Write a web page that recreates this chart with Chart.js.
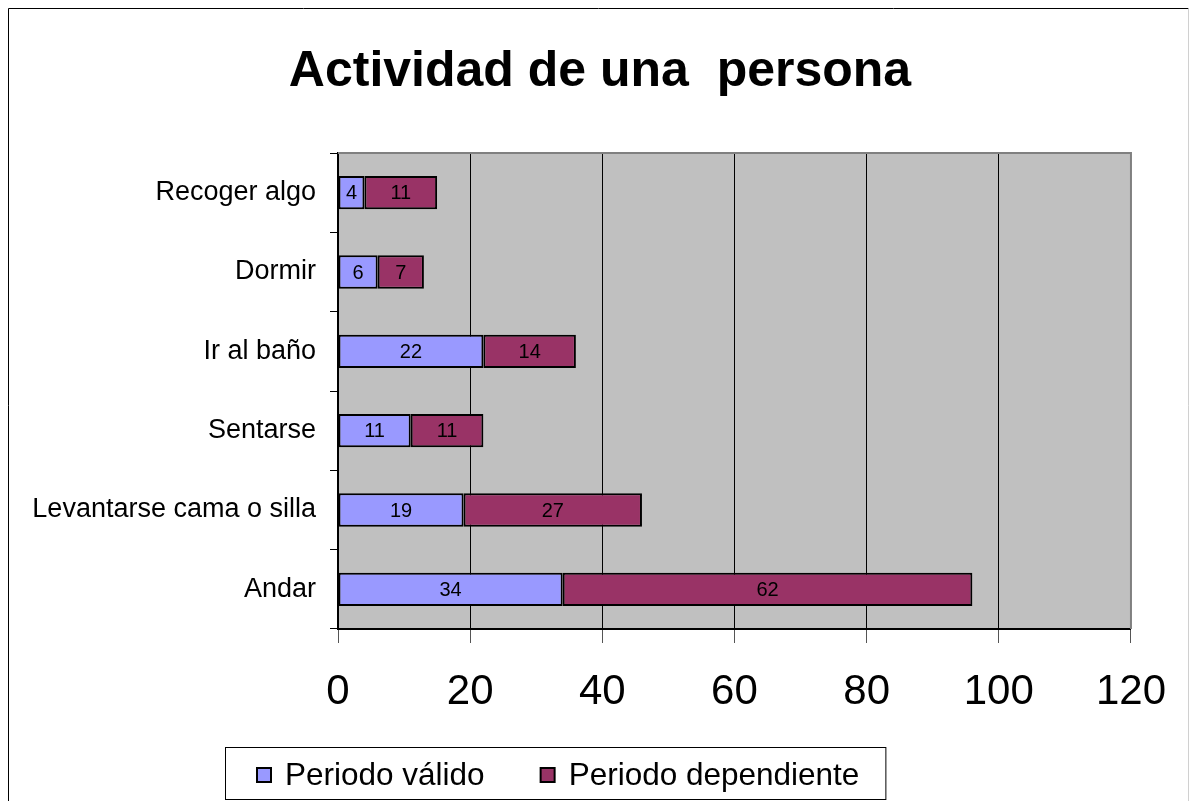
<!DOCTYPE html>
<html>
<head>
<meta charset="utf-8">
<script src="https://cdn.jsdelivr.net/npm/chart.js@4.4.1/dist/chart.umd.min.js"></script>
<style>
  html, body { margin: 0; padding: 0; background: #fff; }
  #wrap { width: 1190px; height: 801px; position: relative; }
</style>
</head>
<body>
<div id="wrap"><canvas id="chart"></canvas></div>
<script>
// Activity categories (top to bottom) and the two stacked periods
const categories = ['Recoger algo', 'Dormir', 'Ir al baño', 'Sentarse', 'Levantarse cama o silla', 'Andar'];
const periodoValido = [4, 6, 22, 11, 19, 34];
const periodoDependiente = [11, 7, 14, 11, 27, 62];
const seriesNames = ['Periodo válido', 'Periodo dependiente'];
const xTickValues = [0, 20, 40, 60, 80, 100, 120];
const chartTitle = 'Actividad de una  persona';

const FONT = "'Liberation Sans', Arial, Helvetica, sans-serif";
const COLORS = ['#9999FF', '#993366'];

// Outer frame, title, grey plot background and its darker top/right edge
const framePlugin = {
  id: 'frame',
  beforeDraw(chart) {
    const { ctx, chartArea: a } = chart;
    ctx.save();
    ctx.fillStyle = '#C0C0C0';
    ctx.fillRect(a.left, a.top, a.right - a.left, a.bottom - a.top);
    ctx.strokeStyle = '#000';
    ctx.lineWidth = 1;
    ctx.beginPath();
    ctx.moveTo(8.5, chart.height + 2);
    ctx.lineTo(8.5, 8.5);
    ctx.lineTo(1188.5, 8.5);
    ctx.stroke();
    ctx.strokeStyle = '#d0d0d0';
    ctx.beginPath();
    ctx.moveTo(1188.5, 8.5);
    ctx.lineTo(1188.5, chart.height + 2);
    ctx.stroke();
    // chart title, centred on the page frame
    ctx.fillStyle = '#000';
    ctx.font = 'bold 50px ' + FONT;
    ctx.textAlign = 'center';
    ctx.textBaseline = 'middle';
    ctx.fillText(chartTitle, 600, 72);
    ctx.restore();
  },
  beforeDatasetsDraw(chart) {
    const { ctx, chartArea: a } = chart;
    ctx.save();
    ctx.strokeStyle = '#808080';
    ctx.lineWidth = 2;
    ctx.beginPath();
    ctx.moveTo(a.left, a.top);
    ctx.lineTo(a.right, a.top);
    ctx.lineTo(a.right, a.bottom);
    ctx.stroke();
    ctx.restore();
  }
};

// Value written in the middle of every bar segment
const valueLabelPlugin = {
  id: 'valueLabels',
  afterDatasetsDraw(chart) {
    const { ctx } = chart;
    ctx.save();
    ctx.font = '20px ' + FONT;
    ctx.fillStyle = '#000';
    ctx.textAlign = 'center';
    ctx.textBaseline = 'middle';
    chart.data.datasets.forEach((ds, di) => {
      const meta = chart.getDatasetMeta(di);
      meta.data.forEach((el, i) => {
        const p = el.getProps(['x', 'y', 'base'], true);
        ctx.fillText(String(ds.data[i]), (p.x + p.base) / 2, p.y + 1);
      });
    });
    ctx.restore();
  }
};

// Boxed legend under the axis
const boxedLegendPlugin = {
  id: 'boxedLegend',
  afterDraw(chart) {
    const { ctx } = chart;
    const boxLeft = 225, boxTop = 747.5, boxH = 52;
    const sw = 14, cy = 775;
    ctx.save();
    ctx.font = '31.5px ' + FONT;
    ctx.textBaseline = 'middle';
    ctx.textAlign = 'left';
    let x = boxLeft + 32;
    chart.data.datasets.forEach((ds, i) => {
      ctx.fillStyle = ds.backgroundColor;
      ctx.fillRect(x, cy - sw / 2, sw, sw);
      ctx.strokeStyle = '#000';
      ctx.lineWidth = 2;
      ctx.strokeRect(x, cy - sw / 2, sw, sw);
      const tx = x + sw + 14;
      ctx.fillStyle = '#000';
      ctx.fillText(ds.label, tx, cy + 1);
      x = tx + ctx.measureText(ds.label).width + (i === 0 ? 56 : 26);
    });
    ctx.strokeStyle = '#000';
    ctx.lineWidth = 1;
    ctx.strokeRect(boxLeft + 0.5, boxTop, x - boxLeft, boxH);
    ctx.restore();
  }
};

new Chart(document.getElementById('chart'), {
  type: 'bar',
  data: {
    labels: categories,
    datasets: [
      { label: seriesNames[0], data: periodoValido, backgroundColor: COLORS[0] },
      { label: seriesNames[1], data: periodoDependiente, backgroundColor: COLORS[1] }
    ]
  },
  options: {
    indexAxis: 'y',
    responsive: true,
    maintainAspectRatio: false,
    animation: false,
    layout: { padding: { left: 0, right: 57, top: 153, bottom: 72 } },
    datasets: {
      bar: {
        borderColor: '#000',
        borderWidth: 2,
        borderSkipped: false,
        categoryPercentage: 1,
        barPercentage: 0.42
      }
    },
    scales: {
      x: {
        stacked: true,
        min: 0,
        max: 120,
        afterBuildTicks(axis) { axis.ticks = xTickValues.map(v => ({ value: v })); },
        afterFit(axis) { axis.height = 100; },
        border: { display: true, color: '#000', width: 2 },
        grid: {
          color: (c) => (c.tick && c.tick.value === 120 ? '#808080' : '#000'),
          tickColor: '#555',
          lineWidth: 1,
          tickLength: 14
        },
        ticks: { font: { family: FONT, size: 42 }, color: '#000', padding: 24, maxRotation: 0 }
      },
      y: {
        stacked: true,
        afterFit(axis) { axis.width = 338; },
        border: { display: true, color: '#000', width: 2 },
        grid: { drawOnChartArea: false, color: '#000', tickLength: 8, offset: true },
        ticks: { font: { family: FONT, size: 27 }, color: '#000', padding: 14 }
      }
    },
    plugins: {
      legend: { display: false },
      tooltip: { enabled: false },
      title: { display: false }
    }
  },
  plugins: [framePlugin, valueLabelPlugin, boxedLegendPlugin]
});
</script>
</body>
</html>
